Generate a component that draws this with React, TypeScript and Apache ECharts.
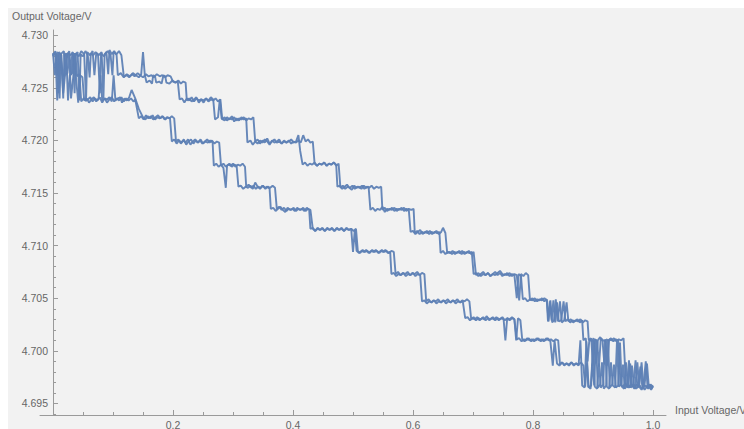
import React, { useEffect, useRef } from "react";
import * as echarts from "echarts";

const upperSweepA: [number, number][] = [
  [0.000,4.7280],[0.004,4.7285],[0.007,4.7262],[0.010,4.7284],[0.014,4.7281],[0.017,4.7240],[0.019,4.7283],[0.023,4.7280],
  [0.027,4.7285],[0.030,4.7262],[0.032,4.7283],[0.037,4.7281],[0.041,4.7284],[0.044,4.7238],[0.046,4.7282],[0.050,4.7280],
  [0.054,4.7285],[0.058,4.7281],[0.061,4.7260],[0.063,4.7283],[0.067,4.7281],[0.071,4.7284],[0.075,4.7282],[0.078,4.7245],
  [0.080,4.7283],[0.085,4.7280],[0.089,4.7284],[0.092,4.7263],[0.094,4.7286],[0.098,4.7282],[0.102,4.7285],[0.106,4.7281],
  [0.108,4.7262],[0.113,4.7264],[0.118,4.7260],[0.123,4.7263],[0.128,4.7261],[0.133,4.7264],[0.138,4.7262],[0.143,4.7260],
  [0.147,4.7263],[0.150,4.7284],[0.153,4.7262],[0.156,4.7255],[0.161,4.7257],[0.165,4.7254],[0.167,4.7262],[0.170,4.7261],
  [0.172,4.7255],[0.177,4.7256],[0.181,4.7254],[0.184,4.7262],[0.187,4.7261],[0.189,4.7255],[0.194,4.7254],[0.199,4.7257],
  [0.204,4.7255],[0.208,4.7256],[0.211,4.7239],[0.215,4.7240],[0.219,4.7236],[0.223,4.7240],[0.227,4.7238],[0.231,4.7241],
  [0.235,4.7237],[0.239,4.7240],[0.243,4.7238],[0.247,4.7239],[0.251,4.7236],[0.255,4.7240],[0.259,4.7238],[0.263,4.7241],
  [0.267,4.7239],[0.270,4.7220],[0.275,4.7222],[0.278,4.7239],[0.281,4.7221],[0.286,4.7219],[0.290,4.7222],[0.294,4.7220],
  [0.298,4.7223],[0.302,4.7218],[0.306,4.7221],[0.310,4.7219],[0.314,4.7222],[0.318,4.7220],[0.322,4.7221],[0.324,4.7198],
  [0.329,4.7200],[0.333,4.7196],[0.337,4.7199],[0.341,4.7201],[0.345,4.7197],[0.349,4.7200],[0.353,4.7198],[0.357,4.7202],
  [0.361,4.7197],[0.365,4.7199],[0.369,4.7201],[0.373,4.7198],[0.377,4.7199],[0.381,4.7197],[0.385,4.7200],[0.389,4.7198],
  [0.393,4.7199],[0.397,4.7201],[0.401,4.7198],[0.405,4.7199],[0.409,4.7205],[0.412,4.7190],[0.416,4.7177],[0.420,4.7179],
  [0.424,4.7176],[0.428,4.7178],[0.432,4.7177],[0.436,4.7179],[0.440,4.7176],[0.444,4.7178],[0.448,4.7177],[0.452,4.7179],
  [0.456,4.7176],[0.460,4.7178],[0.464,4.7177],[0.468,4.7179],[0.472,4.7177],[0.474,4.7156],[0.478,4.7157],[0.482,4.7154],
  [0.486,4.7156],[0.490,4.7158],[0.494,4.7155],[0.498,4.7153],[0.502,4.7157],[0.506,4.7155],[0.510,4.7156],[0.514,4.7154],
  [0.518,4.7157],[0.522,4.7155],[0.526,4.7156],[0.529,4.7134],[0.533,4.7136],[0.537,4.7133],[0.541,4.7135],[0.545,4.7134],
  [0.549,4.7137],[0.553,4.7132],[0.557,4.7135],[0.561,4.7134],[0.565,4.7136],[0.569,4.7133],[0.573,4.7135],[0.577,4.7134],
  [0.581,4.7136],[0.585,4.7133],[0.589,4.7135],[0.593,4.7134],[0.596,4.7113],[0.600,4.7114],[0.604,4.7111],[0.608,4.7113],
  [0.612,4.7115],[0.616,4.7111],[0.620,4.7113],[0.624,4.7112],[0.628,4.7114],[0.632,4.7111],[0.636,4.7113],[0.640,4.7112],
  [0.644,4.7113],[0.646,4.7093],[0.650,4.7095],[0.654,4.7092],[0.658,4.7094],[0.662,4.7093],[0.666,4.7095],[0.670,4.7092],
  [0.674,4.7094],[0.678,4.7093],[0.682,4.7095],[0.686,4.7092],[0.690,4.7094],[0.694,4.7093],[0.698,4.7094],[0.701,4.7073],
  [0.705,4.7074],[0.709,4.7071],[0.713,4.7073],[0.717,4.7075],[0.721,4.7072],[0.725,4.7074],[0.729,4.7071],[0.733,4.7073],
  [0.737,4.7072],[0.741,4.7074],[0.745,4.7076],[0.749,4.7073],[0.753,4.7072],[0.757,4.7074],[0.761,4.7071],[0.765,4.7073],
  [0.769,4.7072],[0.773,4.7050],[0.776,4.7073],[0.780,4.7071],[0.783,4.7049],[0.787,4.7050],[0.791,4.7047],[0.795,4.7049],
  [0.799,4.7048],[0.803,4.7050],[0.807,4.7047],[0.811,4.7049],[0.815,4.7048],[0.819,4.7050],[0.823,4.7048],[0.825,4.7028],
  [0.828,4.7047],[0.831,4.7029],[0.834,4.7048],[0.837,4.7027],[0.840,4.7046],[0.843,4.7028],[0.847,4.7029],[0.851,4.7047],
  [0.854,4.7028],[0.858,4.7030],[0.862,4.7027],[0.866,4.7029],[0.870,4.7028],[0.874,4.7030],[0.878,4.7027],[0.882,4.7029],
  [0.884,4.7010],[0.888,4.7012],[0.891,4.6990],[0.894,4.7011],[0.898,4.7009],[0.901,4.7012],[0.905,4.6988],[0.908,4.7010],
  [0.912,4.7013],[0.916,4.7009],[0.919,4.6987],[0.922,4.7011],[0.926,4.7010],[0.930,4.7012],[0.934,4.7009],[0.938,4.7011],
  [0.942,4.7010],[0.946,4.6968],[0.950,4.6966],[0.954,4.6969],[0.958,4.6965],[0.962,4.6988],[0.965,4.6967],[0.969,4.6964],
  [0.973,4.6968],[0.977,4.6966],[0.981,4.6989],[0.984,4.6965],[0.988,4.6967],[0.992,4.6964],[0.996,4.6968],[1.000,4.6966],
];

const upperSweepB: [number, number][] = [
  [0.000,4.7283],[0.005,4.7281],[0.008,4.7284],[0.011,4.7240],[0.013,4.7282],[0.018,4.7285],[0.021,4.7263],[0.024,4.7283],
  [0.029,4.7281],[0.033,4.7284],[0.036,4.7245],[0.038,4.7283],[0.043,4.7280],[0.047,4.7285],[0.052,4.7282],[0.055,4.7237],
  [0.057,4.7284],[0.062,4.7281],[0.066,4.7285],[0.069,4.7262],[0.072,4.7283],[0.076,4.7281],[0.081,4.7284],[0.084,4.7240],
  [0.086,4.7282],[0.091,4.7285],[0.096,4.7281],[0.099,4.7262],[0.101,4.7284],[0.106,4.7282],[0.110,4.7285],[0.114,4.7281],
  [0.118,4.7261],[0.123,4.7262],[0.127,4.7260],[0.132,4.7263],[0.136,4.7261],[0.141,4.7264],[0.145,4.7262],[0.150,4.7260],
  [0.155,4.7263],[0.159,4.7261],[0.164,4.7262],[0.168,4.7260],[0.173,4.7263],[0.178,4.7261],[0.182,4.7262],[0.187,4.7260],
  [0.191,4.7262],[0.196,4.7261],[0.200,4.7256],[0.204,4.7255],[0.209,4.7257],[0.213,4.7254],[0.217,4.7256],[0.221,4.7255],
  [0.223,4.7238],[0.227,4.7240],[0.231,4.7237],[0.235,4.7239],[0.239,4.7241],[0.243,4.7236],[0.247,4.7239],[0.251,4.7238],
  [0.255,4.7240],[0.259,4.7237],[0.263,4.7239],[0.267,4.7238],[0.271,4.7240],[0.275,4.7237],[0.279,4.7239],[0.282,4.7220],
  [0.286,4.7222],[0.290,4.7219],[0.294,4.7221],[0.298,4.7220],[0.302,4.7222],[0.306,4.7219],[0.310,4.7221],[0.314,4.7220],
  [0.318,4.7222],[0.322,4.7219],[0.326,4.7221],[0.330,4.7220],[0.334,4.7222],[0.337,4.7199],[0.341,4.7197],[0.345,4.7200],
  [0.349,4.7198],[0.353,4.7201],[0.357,4.7199],[0.361,4.7196],[0.365,4.7200],[0.369,4.7198],[0.373,4.7199],[0.377,4.7201],
  [0.381,4.7197],[0.385,4.7199],[0.389,4.7198],[0.393,4.7200],[0.397,4.7197],[0.401,4.7199],[0.405,4.7198],[0.409,4.7200],
  [0.413,4.7198],[0.417,4.7205],[0.421,4.7199],[0.425,4.7201],[0.429,4.7198],[0.433,4.7199],[0.436,4.7178],[0.440,4.7176],
  [0.444,4.7178],[0.448,4.7177],[0.452,4.7179],[0.456,4.7176],[0.460,4.7178],[0.464,4.7177],[0.468,4.7179],[0.472,4.7176],
  [0.476,4.7178],[0.479,4.7155],[0.483,4.7157],[0.487,4.7154],[0.491,4.7156],[0.495,4.7155],[0.499,4.7157],[0.503,4.7154],
  [0.507,4.7156],[0.511,4.7155],[0.515,4.7157],[0.519,4.7154],[0.523,4.7156],[0.527,4.7155],[0.531,4.7157],[0.535,4.7154],
  [0.539,4.7156],[0.543,4.7155],[0.547,4.7156],[0.549,4.7134],[0.553,4.7136],[0.557,4.7133],[0.561,4.7135],[0.565,4.7134],
  [0.569,4.7136],[0.573,4.7133],[0.577,4.7135],[0.581,4.7134],[0.585,4.7136],[0.589,4.7133],[0.593,4.7135],[0.597,4.7134],
  [0.601,4.7135],[0.603,4.7112],[0.607,4.7114],[0.611,4.7111],[0.615,4.7113],[0.619,4.7112],[0.623,4.7114],[0.627,4.7111],
  [0.631,4.7113],[0.635,4.7112],[0.639,4.7114],[0.643,4.7111],[0.647,4.7113],[0.650,4.7117],[0.654,4.7112],[0.657,4.7093],
  [0.661,4.7094],[0.665,4.7092],[0.669,4.7094],[0.673,4.7093],[0.677,4.7095],[0.681,4.7092],[0.685,4.7094],[0.689,4.7093],
  [0.693,4.7095],[0.697,4.7092],[0.701,4.7094],[0.705,4.7072],[0.709,4.7074],[0.713,4.7071],[0.717,4.7073],[0.721,4.7072],
  [0.725,4.7074],[0.729,4.7071],[0.733,4.7073],[0.737,4.7075],[0.741,4.7072],[0.745,4.7074],[0.749,4.7071],[0.753,4.7073],
  [0.757,4.7072],[0.761,4.7074],[0.765,4.7071],[0.769,4.7073],[0.773,4.7072],[0.777,4.7048],[0.780,4.7073],[0.784,4.7071],
  [0.788,4.7074],[0.792,4.7072],[0.795,4.7048],[0.799,4.7050],[0.803,4.7047],[0.807,4.7049],[0.811,4.7048],[0.815,4.7050],
  [0.819,4.7047],[0.823,4.7049],[0.826,4.7028],[0.829,4.7048],[0.832,4.7027],[0.835,4.7029],[0.838,4.7049],[0.841,4.7028],
  [0.845,4.7047],[0.848,4.7027],[0.852,4.7029],[0.856,4.7046],[0.859,4.7028],[0.863,4.7030],[0.867,4.7027],[0.871,4.7029],
  [0.875,4.7028],[0.879,4.7030],[0.883,4.7027],[0.887,4.7029],[0.891,4.7028],[0.893,4.7010],[0.897,4.7012],[0.900,4.6987],
  [0.903,4.7011],[0.907,4.7009],[0.910,4.6985],[0.913,4.7012],[0.917,4.7010],[0.921,4.7009],[0.924,4.6986],[0.927,4.7011],
  [0.931,4.7010],[0.935,4.7012],[0.939,4.7009],[0.943,4.7011],[0.947,4.7010],[0.951,4.7012],[0.955,4.6967],[0.959,4.6965],
  [0.963,4.6968],[0.967,4.6966],[0.971,4.6991],[0.974,4.6965],[0.978,4.6967],[0.982,4.6964],[0.986,4.6968],[0.990,4.6988],
  [0.993,4.6966],[0.997,4.6963],[1.000,4.6967],
];

const lowerSweepA: [number, number][] = [
  [0.000,4.7283],[0.003,4.7262],[0.006,4.7282],[0.009,4.7245],[0.012,4.7283],[0.016,4.7262],[0.019,4.7261],[0.022,4.7283],
  [0.025,4.7238],[0.028,4.7262],[0.032,4.7264],[0.035,4.7283],[0.038,4.7262],[0.042,4.7236],[0.045,4.7262],[0.049,4.7260],
  [0.052,4.7238],[0.056,4.7240],[0.060,4.7236],[0.064,4.7239],[0.068,4.7241],[0.072,4.7237],[0.076,4.7240],[0.079,4.7262],
  [0.082,4.7238],[0.086,4.7240],[0.090,4.7236],[0.094,4.7239],[0.098,4.7241],[0.102,4.7237],[0.106,4.7240],[0.110,4.7238],
  [0.114,4.7241],[0.118,4.7237],[0.122,4.7240],[0.126,4.7238],[0.130,4.7240],[0.134,4.7237],[0.137,4.7239],[0.140,4.7230],
  [0.143,4.7221],[0.147,4.7223],[0.151,4.7220],[0.155,4.7224],[0.159,4.7221],[0.163,4.7223],[0.167,4.7220],[0.171,4.7222],
  [0.175,4.7224],[0.179,4.7221],[0.183,4.7223],[0.187,4.7220],[0.191,4.7222],[0.195,4.7221],[0.198,4.7199],[0.202,4.7201],
  [0.206,4.7197],[0.210,4.7200],[0.214,4.7198],[0.218,4.7201],[0.222,4.7196],[0.226,4.7199],[0.230,4.7201],[0.234,4.7197],
  [0.238,4.7200],[0.242,4.7198],[0.246,4.7201],[0.250,4.7197],[0.254,4.7199],[0.258,4.7198],[0.262,4.7200],[0.266,4.7198],
  [0.268,4.7176],[0.272,4.7178],[0.276,4.7175],[0.280,4.7177],[0.284,4.7174],[0.288,4.7155],[0.290,4.7176],[0.294,4.7178],
  [0.298,4.7175],[0.302,4.7177],[0.306,4.7176],[0.309,4.7156],[0.313,4.7157],[0.317,4.7154],[0.321,4.7156],[0.325,4.7155],
  [0.329,4.7157],[0.333,4.7154],[0.337,4.7160],[0.341,4.7156],[0.345,4.7154],[0.349,4.7157],[0.353,4.7155],[0.357,4.7156],
  [0.361,4.7154],[0.363,4.7135],[0.367,4.7136],[0.371,4.7133],[0.375,4.7135],[0.379,4.7137],[0.383,4.7134],[0.387,4.7132],
  [0.391,4.7136],[0.395,4.7134],[0.399,4.7135],[0.403,4.7133],[0.407,4.7136],[0.411,4.7134],[0.415,4.7135],[0.419,4.7133],
  [0.423,4.7136],[0.427,4.7134],[0.429,4.7116],[0.433,4.7117],[0.437,4.7114],[0.441,4.7116],[0.445,4.7115],[0.449,4.7117],
  [0.453,4.7114],[0.457,4.7116],[0.461,4.7115],[0.465,4.7117],[0.469,4.7114],[0.473,4.7116],[0.477,4.7115],[0.481,4.7117],
  [0.485,4.7114],[0.489,4.7116],[0.493,4.7115],[0.497,4.7116],[0.500,4.7094],[0.503,4.7115],[0.506,4.7095],[0.510,4.7093],
  [0.514,4.7095],[0.518,4.7094],[0.522,4.7096],[0.526,4.7093],[0.530,4.7095],[0.534,4.7094],[0.538,4.7096],[0.542,4.7093],
  [0.546,4.7095],[0.550,4.7094],[0.554,4.7096],[0.558,4.7093],[0.562,4.7094],[0.564,4.7073],[0.568,4.7074],[0.572,4.7071],
  [0.576,4.7073],[0.580,4.7072],[0.584,4.7074],[0.588,4.7071],[0.592,4.7073],[0.596,4.7072],[0.600,4.7074],[0.604,4.7071],
  [0.608,4.7073],[0.612,4.7072],[0.615,4.7047],[0.619,4.7048],[0.623,4.7045],[0.627,4.7047],[0.631,4.7046],[0.635,4.7048],
  [0.639,4.7045],[0.643,4.7047],[0.647,4.7046],[0.651,4.7048],[0.655,4.7045],[0.659,4.7047],[0.663,4.7046],[0.667,4.7048],
  [0.671,4.7045],[0.675,4.7047],[0.679,4.7046],[0.683,4.7047],[0.687,4.7031],[0.691,4.7032],[0.695,4.7029],[0.699,4.7031],
  [0.703,4.7030],[0.707,4.7032],[0.711,4.7029],[0.715,4.7031],[0.719,4.7030],[0.723,4.7033],[0.727,4.7029],[0.731,4.7031],
  [0.735,4.7030],[0.739,4.7032],[0.743,4.7029],[0.747,4.7031],[0.751,4.7030],[0.754,4.7010],[0.757,4.7031],[0.761,4.7029],
  [0.765,4.7031],[0.769,4.7030],[0.773,4.7011],[0.777,4.7012],[0.781,4.7009],[0.785,4.7011],[0.789,4.7010],[0.793,4.7012],
  [0.797,4.7009],[0.801,4.7011],[0.805,4.7010],[0.809,4.7012],[0.813,4.7009],[0.817,4.7011],[0.821,4.7010],[0.825,4.7012],
  [0.829,4.7009],[0.833,4.6986],[0.836,4.7010],[0.840,4.6988],[0.844,4.6986],[0.848,4.6989],[0.852,4.6987],[0.856,4.6988],
  [0.860,4.6986],[0.864,4.6989],[0.868,4.6987],[0.872,4.6988],[0.876,4.6986],[0.879,4.7010],[0.882,4.6967],[0.886,4.6965],
  [0.889,4.7009],[0.892,4.6966],[0.896,4.6964],[0.899,4.6988],[0.902,4.6967],[0.905,4.7011],[0.908,4.6965],[0.912,4.6968],
  [0.915,4.6989],[0.918,4.6964],[0.922,4.6967],[0.925,4.7010],[0.928,4.6965],[0.932,4.6968],[0.935,4.6987],[0.938,4.6965],
  [0.942,4.6967],[0.945,4.7008],[0.948,4.6966],[0.952,4.6964],[0.955,4.6989],[0.958,4.6967],[0.962,4.6965],[0.965,4.6986],
  [0.968,4.6968],[0.972,4.6964],[0.975,4.6966],[0.979,4.6985],[0.982,4.6967],[0.986,4.6963],[0.990,4.6966],[0.994,4.6968],
  [0.997,4.6964],[1.000,4.6966],
];

const lowerSweepB: [number, number][] = [
  [0.000,4.7281],[0.004,4.7284],[0.007,4.7238],[0.010,4.7262],[0.013,4.7283],[0.017,4.7245],[0.020,4.7262],[0.024,4.7264],
  [0.027,4.7283],[0.030,4.7240],[0.034,4.7262],[0.037,4.7283],[0.040,4.7261],[0.044,4.7263],[0.047,4.7237],[0.051,4.7240],
  [0.055,4.7238],[0.058,4.7239],[0.062,4.7241],[0.066,4.7237],[0.070,4.7240],[0.074,4.7238],[0.078,4.7241],[0.082,4.7236],
  [0.086,4.7240],[0.090,4.7239],[0.094,4.7241],[0.098,4.7237],[0.101,4.7262],[0.104,4.7238],[0.108,4.7240],[0.112,4.7241],
  [0.115,4.7236],[0.119,4.7240],[0.123,4.7238],[0.127,4.7241],[0.131,4.7248],[0.137,4.7240],[0.143,4.7230],[0.150,4.7222],
  [0.154,4.7220],[0.158,4.7223],[0.162,4.7221],[0.166,4.7224],[0.170,4.7220],[0.174,4.7222],[0.178,4.7221],[0.182,4.7223],
  [0.186,4.7220],[0.190,4.7222],[0.194,4.7221],[0.198,4.7223],[0.202,4.7221],[0.205,4.7199],[0.209,4.7201],[0.213,4.7197],
  [0.217,4.7200],[0.221,4.7198],[0.225,4.7201],[0.229,4.7196],[0.233,4.7199],[0.237,4.7201],[0.241,4.7198],[0.245,4.7200],
  [0.249,4.7197],[0.253,4.7199],[0.257,4.7201],[0.261,4.7198],[0.265,4.7200],[0.269,4.7197],[0.273,4.7199],[0.277,4.7198],
  [0.280,4.7176],[0.284,4.7178],[0.288,4.7175],[0.292,4.7177],[0.296,4.7176],[0.300,4.7178],[0.304,4.7175],[0.308,4.7177],
  [0.312,4.7176],[0.316,4.7178],[0.320,4.7175],[0.322,4.7156],[0.326,4.7158],[0.330,4.7155],[0.334,4.7157],[0.338,4.7154],
  [0.342,4.7156],[0.346,4.7155],[0.350,4.7157],[0.354,4.7154],[0.358,4.7156],[0.362,4.7155],[0.366,4.7157],[0.370,4.7155],
  [0.373,4.7135],[0.377,4.7137],[0.381,4.7134],[0.385,4.7136],[0.389,4.7133],[0.393,4.7135],[0.397,4.7134],[0.401,4.7136],
  [0.405,4.7133],[0.409,4.7135],[0.413,4.7134],[0.417,4.7136],[0.421,4.7133],[0.425,4.7135],[0.429,4.7134],[0.433,4.7116],
  [0.437,4.7114],[0.441,4.7117],[0.445,4.7115],[0.449,4.7116],[0.453,4.7114],[0.457,4.7117],[0.461,4.7115],[0.465,4.7116],
  [0.469,4.7114],[0.473,4.7117],[0.477,4.7115],[0.481,4.7116],[0.485,4.7114],[0.489,4.7117],[0.493,4.7115],[0.497,4.7116],
  [0.501,4.7114],[0.505,4.7116],[0.508,4.7095],[0.512,4.7093],[0.516,4.7096],[0.520,4.7094],[0.524,4.7095],[0.528,4.7093],
  [0.532,4.7096],[0.536,4.7094],[0.540,4.7095],[0.544,4.7093],[0.548,4.7096],[0.552,4.7094],[0.556,4.7095],[0.560,4.7093],
  [0.564,4.7095],[0.568,4.7094],[0.571,4.7073],[0.575,4.7075],[0.579,4.7072],[0.583,4.7074],[0.587,4.7073],[0.591,4.7075],
  [0.595,4.7072],[0.599,4.7074],[0.603,4.7073],[0.607,4.7075],[0.611,4.7072],[0.615,4.7074],[0.619,4.7073],[0.622,4.7047],
  [0.626,4.7049],[0.630,4.7046],[0.634,4.7048],[0.638,4.7047],[0.642,4.7049],[0.646,4.7046],[0.650,4.7048],[0.654,4.7047],
  [0.658,4.7049],[0.662,4.7046],[0.666,4.7048],[0.670,4.7047],[0.674,4.7049],[0.678,4.7046],[0.682,4.7048],[0.686,4.7047],
  [0.690,4.7049],[0.694,4.7047],[0.697,4.7030],[0.701,4.7032],[0.705,4.7029],[0.709,4.7031],[0.713,4.7030],[0.717,4.7032],
  [0.721,4.7029],[0.725,4.7031],[0.729,4.7030],[0.733,4.7032],[0.737,4.7029],[0.741,4.7031],[0.745,4.7030],[0.749,4.7032],
  [0.753,4.7029],[0.757,4.7031],[0.761,4.7030],[0.765,4.7032],[0.769,4.7030],[0.772,4.7010],[0.775,4.7031],[0.779,4.7029],
  [0.782,4.7011],[0.786,4.7009],[0.790,4.7012],[0.794,4.7010],[0.798,4.7011],[0.802,4.7009],[0.806,4.7012],[0.810,4.7010],
  [0.814,4.7011],[0.818,4.7009],[0.822,4.7012],[0.826,4.7010],[0.830,4.7011],[0.834,4.7009],[0.838,4.7011],[0.842,4.7010],
  [0.845,4.6987],[0.849,4.6989],[0.852,4.6986],[0.856,4.6988],[0.860,4.6987],[0.864,4.6989],[0.868,4.6986],[0.872,4.6988],
  [0.876,4.6987],[0.880,4.6989],[0.884,4.6986],[0.887,4.6966],[0.890,4.6988],[0.893,4.6965],[0.897,4.6967],[0.900,4.7010],
  [0.903,4.6966],[0.907,4.6964],[0.910,4.6988],[0.913,4.6965],[0.917,4.6968],[0.920,4.7011],[0.923,4.6966],[0.927,4.6964],
  [0.930,4.6989],[0.933,4.6967],[0.937,4.6965],[0.940,4.7009],[0.943,4.6966],[0.947,4.6968],[0.950,4.6987],[0.953,4.6964],
  [0.957,4.6967],[0.960,4.6991],[0.963,4.6965],[0.967,4.6968],[0.970,4.6964],[0.974,4.6989],[0.977,4.6966],[0.981,4.6963],
  [0.984,4.6967],[0.988,4.6990],[0.991,4.6965],[0.995,4.6967],[1.000,4.6965],
];

const xMajorTicks = [0.2, 0.4, 0.6, 0.8, 1.0];
const xMinorTicks = [0.05, 0.1, 0.15, 0.2, 0.25, 0.3, 0.35, 0.4, 0.45, 0.5, 0.55, 0.6, 0.65, 0.7, 0.75, 0.8, 0.85, 0.9, 0.95, 1.0];
const yMajorTicks = [4.695, 4.7, 4.705, 4.71, 4.715, 4.72, 4.725, 4.73];
const yMinorTicks = [
  4.694, 4.695, 4.696, 4.697, 4.698, 4.699, 4.7, 4.701, 4.702, 4.703, 4.704, 4.705, 4.706, 4.707, 4.708, 4.709,
  4.71, 4.711, 4.712, 4.713, 4.714, 4.715, 4.716, 4.717, 4.718, 4.719, 4.72, 4.721, 4.722, 4.723, 4.724, 4.725,
  4.726, 4.727, 4.728, 4.729, 4.73,
];

const xName = "Input Voltage/V";
const yName = "Output Voltage/V";
const sweeps = [upperSweepA, upperSweepB, lowerSweepA, lowerSweepB];

const FONT = "'Liberation Sans', Arial, sans-serif";
const AXIS_COLOR = "#9a9a9a";
const LABEL_COLOR = "#666666";
const LINE_COLOR = "#5E81B5";

export default function App() {
  const ref = useRef<HTMLDivElement>(null);

  useEffect(() => {
    if (!ref.current) return;
    const chart = echarts.init(ref.current, null, { renderer: "svg" });
    const xRange = { min: -0.0217, max: 1.0217 };
    const yRange = { min: 4.6939, max: 4.7305 };
    chart.setOption({
      animation: false,
      backgroundColor: "#f2f2f2",
      grid: { left: 32, right: 78, top: 22, bottom: 14, containLabel: false, outerBoundsMode: "none" },
      xAxis: [
        {
          type: "value",
          ...xRange,
          position: "bottom",
          axisLine: { show: true, onZero: false, lineStyle: { color: AXIS_COLOR, width: 1 } },
          axisTick: { show: true, inside: true, length: 5, customValues: xMajorTicks, lineStyle: { color: AXIS_COLOR } },
          axisLabel: {
            show: true,
            customValues: xMajorTicks,
            formatter: (v: number) => v.toFixed(1),
            margin: 4,
            color: LABEL_COLOR,
            fontSize: 10.5,
            fontFamily: FONT,
          },
          splitLine: { show: false },
        },
        {
          type: "value",
          ...xRange,
          position: "bottom",
          axisLine: { show: false, onZero: false },
          axisTick: { show: true, inside: true, length: 3, customValues: xMinorTicks, lineStyle: { color: AXIS_COLOR } },
          axisLabel: { show: false },
          splitLine: { show: false },
        },
      ],
      yAxis: [
        {
          type: "value",
          ...yRange,
          position: "left",
          axisLine: { show: true, onZero: true, onZeroAxisIndex: 0, lineStyle: { color: AXIS_COLOR, width: 1 } },
          axisTick: { show: true, inside: true, length: 5, customValues: yMajorTicks, lineStyle: { color: AXIS_COLOR } },
          axisLabel: {
            show: true,
            customValues: yMajorTicks,
            formatter: (v: number) => v.toFixed(3),
            margin: -8,
            color: LABEL_COLOR,
            fontSize: 10.5,
            fontFamily: FONT,
          },
          splitLine: { show: false },
        },
        {
          type: "value",
          ...yRange,
          position: "left",
          axisLine: { show: false, onZero: true, onZeroAxisIndex: 0 },
          axisTick: { show: true, inside: true, length: 3, customValues: yMinorTicks, lineStyle: { color: AXIS_COLOR } },
          axisLabel: { show: false },
          splitLine: { show: false },
        },
      ],
      graphic: [
        {
          type: "text",
          left: 4,
          top: 2,
          style: { text: yName, fill: LABEL_COLOR, fontSize: 10.5, fontFamily: FONT },
        },
        {
          type: "text",
          left: 667,
          top: 396,
          style: { text: xName, fill: LABEL_COLOR, fontSize: 10.5, fontFamily: FONT },
        },
      ],
      series: sweeps.map((data, i) => ({
        type: "line",
        name: "sweep" + i,
        data,
        xAxisIndex: 0,
        yAxisIndex: 0,
        showSymbol: false,
        symbol: "none",
        silent: true,
        lineStyle: { color: LINE_COLOR, width: 1.9, opacity: 0.95 },
      })),
    });
    return () => chart.dispose();
  }, []);

  return (
    <div
      ref={ref}
      style={{ position: "fixed", left: 8, top: 8, width: 736, height: 421, background: "#f2f2f2" }}
    />
  );
}
